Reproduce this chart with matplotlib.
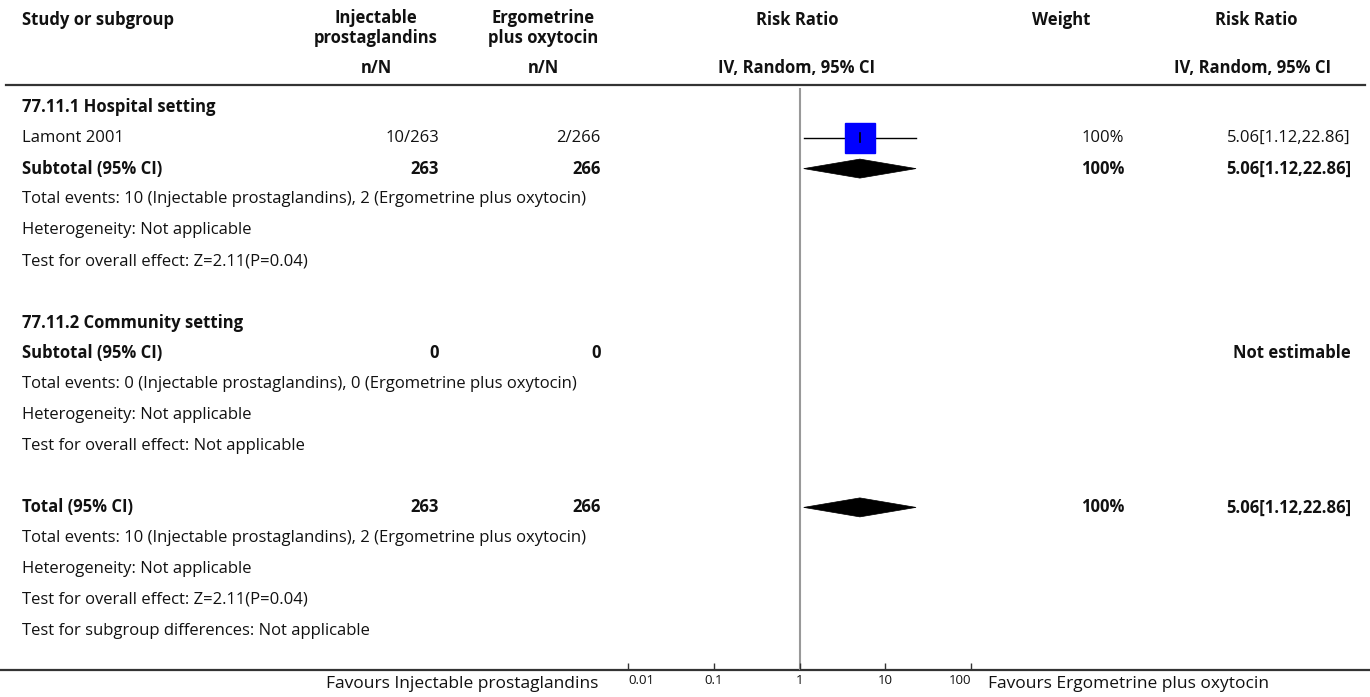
import matplotlib
matplotlib.use("Agg")
import matplotlib.pyplot as plt
from matplotlib.patches import Polygon

plt.rcParams['font.family'] = ['Open Sans', 'DejaVu Sans']

# data
studies = ["Lamont 2001"]
events_pg = [10]
total_pg = [263]
events_eo = [2]
total_eo = [266]
weights = [100]
rr = [5.06]
rr_lo = [1.12]
rr_hi = [22.86]

sub_pooled = [(5.06, 1.12, 22.86), None]
total_pooled = (5.06, 1.12, 22.86)
xticks = [0.01, 0.1, 1, 10, 100]
xtick_labels = ["0.01", "0.1", "1", "10", "100"]

W, H = 1370, 697
fig = plt.figure(figsize=(W / 100, H / 100), dpi=100)
ax = fig.add_axes([0, 0, 1, 1])
ax.set_xlim(0, W)
ax.set_ylim(H, 0)
ax.axis('off')

fs = 12
col_txt = '#111111'


def fmt_ci(p):
    return "%.2f[%.2f,%.2f]" % p


# header
xl = 22
ax.text(xl, 20, "Study or subgroup", fontsize=fs, weight='bold', va='center', color=col_txt)
ax.text(376, 28, "Injectable\nprostaglandins", fontsize=fs, weight='bold', va='center', ha='center',
        linespacing=1.1, color=col_txt)
ax.text(543, 28, "Ergometrine\nplus oxytocin", fontsize=fs, weight='bold', va='center', ha='center',
        linespacing=1.1, color=col_txt)
ax.text(797, 20, "Risk Ratio", fontsize=fs, weight='bold', va='center', ha='center', color=col_txt)
ax.text(1061, 20, "Weight", fontsize=fs, weight='bold', va='center', ha='center', color=col_txt)
ax.text(1256, 20, "Risk Ratio", fontsize=fs, weight='bold', va='center', ha='center', color=col_txt)
ax.text(376, 68, "n/N", fontsize=fs, weight='bold', va='center', ha='center', color=col_txt)
ax.text(543, 68, "n/N", fontsize=fs, weight='bold', va='center', ha='center', color=col_txt)
ax.text(797, 68, "IV, Random, 95% CI", fontsize=fs, weight='bold', va='center', ha='center', color=col_txt)
ax.text(1253, 68, "IV, Random, 95% CI", fontsize=fs, weight='bold', va='center', ha='center', color=col_txt)
ax.plot([6, 1365], [85, 85], color='#333333', lw=1.6)
ax.plot([0, W], [670, 670], color='#333333', lw=1.6)

y0, step = 107, 30.8


def rowy(i):
    return y0 + step * i


x_pg, x_eo, x_w, x_rr = 439, 601, 1124, 1351

rows = []  # (row index, label, bold, pg, eo, weight, rr)
rows.append((0, "77.11.1 Hospital setting", True, "", "", "", ""))
for k, s in enumerate(studies):
    rows.append((1 + k, s, False, "%d/%d" % (events_pg[k], total_pg[k]),
                 "%d/%d" % (events_eo[k], total_eo[k]), "%d%%" % weights[k],
                 fmt_ci((rr[k], rr_lo[k], rr_hi[k]))))
rows.append((2, "Subtotal (95% CI)", True, str(sum(total_pg)), str(sum(total_eo)), "100%", fmt_ci(sub_pooled[0])))
rows.append((3, "Total events: %d (Injectable prostaglandins), %d (Ergometrine plus oxytocin)" % (sum(events_pg), sum(events_eo)),
             False, "", "", "", ""))
rows.append((4, "Heterogeneity: Not applicable", False, "", "", "", ""))
rows.append((5, "Test for overall effect: Z=2.11(P=0.04)", False, "", "", "", ""))
rows.append((7, "77.11.2 Community setting", True, "", "", "", ""))
rows.append((8, "Subtotal (95% CI)", True, "0", "0", "", "Not estimable"))
rows.append((9, "Total events: 0 (Injectable prostaglandins), 0 (Ergometrine plus oxytocin)", False, "", "", "", ""))
rows.append((10, "Heterogeneity: Not applicable", False, "", "", "", ""))
rows.append((11, "Test for overall effect: Not applicable", False, "", "", "", ""))
rows.append((13, "Total (95% CI)", True, str(sum(total_pg)), str(sum(total_eo)), "100%", fmt_ci(total_pooled)))
rows.append((14, "Total events: %d (Injectable prostaglandins), %d (Ergometrine plus oxytocin)" % (sum(events_pg), sum(events_eo)),
             False, "", "", "", ""))
rows.append((15, "Heterogeneity: Not applicable", False, "", "", "", ""))
rows.append((16, "Test for overall effect: Z=2.11(P=0.04)", False, "", "", "", ""))
rows.append((17, "Test for subgroup differences: Not applicable", False, "", "", "", ""))

for i, lab, bold, a, b, w, r in rows:
    y = rowy(i)
    wt = 'bold' if bold else 'normal'
    ax.text(xl, y, lab, fontsize=fs, weight=wt, va='center', color=col_txt)
    ax.text(x_pg, y, a, fontsize=fs, weight=wt, va='center', ha='right', color=col_txt)
    ax.text(x_eo, y, b, fontsize=fs, weight=wt, va='center', ha='right', color=col_txt)
    ax.text(x_w, y, w, fontsize=fs, weight=wt, va='center', ha='right', color=col_txt)
    ax.text(x_rr, y, r, fontsize=fs, weight=wt, va='center', ha='right', color=col_txt)

# forest panel
left, right, top, bot = 628, 971, 88, 670
fax = fig.add_axes([left / W, (H - bot) / H, (right - left) / W, (bot - top) / H])
fax.set_xscale('log')
fax.set_xlim(0.01, 100)
fax.set_ylim(bot, top)
fax.patch.set_alpha(0)
for sp in ['top', 'right', 'left', 'bottom']:
    fax.spines[sp].set_visible(False)
fax.set_yticks([])
fax.set_xticks(xticks)
fax.set_xticklabels(xtick_labels)
fax.minorticks_off()
fax.tick_params(axis='x', direction='in', length=5, width=1, color='#333333', labelsize=9.5, pad=3,
                labelcolor=col_txt)
tl = fax.get_xticklabels()
tl[0].set_ha('left')
tl[-1].set_ha('right')
fax.axvline(1, color='#999999', lw=1.5, zorder=0)

for k in range(len(studies)):
    y = rowy(1 + k)
    fax.plot([rr_lo[k], rr_hi[k]], [y, y], color='black', lw=1, zorder=2)
    fax.plot([rr[k]], [y], marker='s', markersize=22, color='#0000ff', mec='#0000ff', zorder=3)
    fax.plot([rr[k], rr[k]], [y - 4.5, y + 4.5], color='black', lw=1.2, zorder=4)


def diamond(p, y):
    est, lo, hi = p
    fax.add_patch(Polygon([(lo, y), (est, y - 9.5), (hi, y), (est, y + 9.5)], closed=True,
                          facecolor='black', edgecolor='black', lw=0.5, zorder=3))


diamond(sub_pooled[0], rowy(2))
diamond(total_pooled, rowy(13))

ax.text(598, 684, "Favours Injectable prostaglandins", fontsize=12.5, va='center', ha='right', color=col_txt)
ax.text(988, 684, "Favours Ergometrine plus oxytocin", fontsize=12.5, va='center', ha='left', color=col_txt)

fig.savefig("out.png", dpi=100)
